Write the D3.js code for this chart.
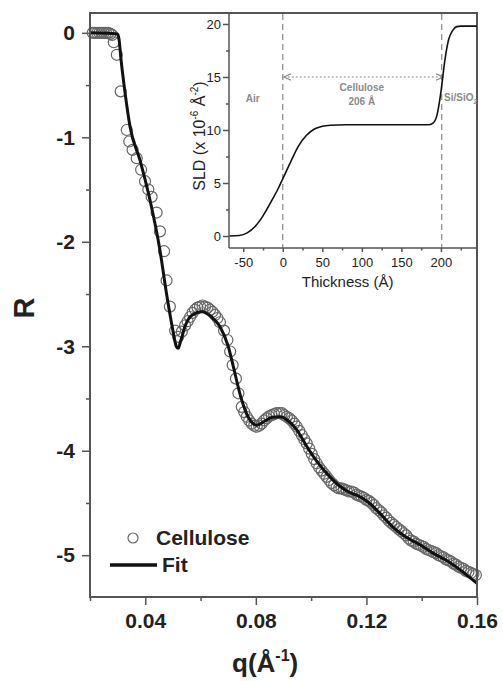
<!DOCTYPE html>
<html>
<head>
<meta charset="utf-8">
<script src="https://d3js.org/d3.v7.min.js"></script>
<style>
  body { margin: 0; background: #fff; }
  svg { display: block; font-family: "Liberation Sans", Arial, sans-serif; }
</style>
</head>
<body>
<div id="chart"></div>
<script>
// measured reflectivity (log R) vs q
var qData = [0.0210, 0.0218, 0.0226, 0.0234, 0.0242, 0.0250, 0.0258, 0.0266, 0.0274, 0.0280,
  0.0286, 0.0297, 0.0311, 0.0333, 0.0342, 0.0354, 0.0369, 0.0385, 0.0399, 0.0411,
  0.0423, 0.0441, 0.0453, 0.0468, 0.0477, 0.0489, 0.0508, 0.0519, 0.0532, 0.0544,
  0.0553, 0.0562, 0.0571, 0.0580, 0.0589, 0.0598, 0.0607, 0.0616, 0.0625, 0.0634,
  0.0643, 0.0652, 0.0661, 0.0670, 0.0685, 0.0697, 0.0707, 0.0716, 0.0728, 0.0737,
  0.0749, 0.0758, 0.0767, 0.0776, 0.0785, 0.0794, 0.0803, 0.0812, 0.0821, 0.0830,
  0.0839, 0.0848, 0.0857, 0.0866, 0.0875, 0.0885, 0.0894, 0.0903, 0.0912, 0.0921,
  0.0930, 0.0939, 0.0948, 0.0957, 0.0966, 0.0975, 0.0984, 0.0993, 0.1002, 0.1011,
  0.1020, 0.1029, 0.1038, 0.1047, 0.1056, 0.1065, 0.1074, 0.1083, 0.1092, 0.1101,
  0.1110, 0.1119, 0.1128, 0.1137, 0.1146, 0.1155, 0.1164, 0.1173, 0.1182, 0.1191,
  0.1200, 0.1209, 0.1218, 0.1227, 0.1236, 0.1245, 0.1254, 0.1263, 0.1272, 0.1281,
  0.1290, 0.1299, 0.1308, 0.1317, 0.1326, 0.1335, 0.1344, 0.1353, 0.1362, 0.1371,
  0.1380, 0.1389, 0.1398, 0.1407, 0.1416, 0.1425, 0.1434, 0.1443, 0.1452, 0.1461,
  0.1470, 0.1479, 0.1488, 0.1497, 0.1506, 0.1515, 0.1524, 0.1533, 0.1542, 0.1551,
  0.1560, 0.1569, 0.1578, 0.1587, 0.1596];
var rData = [0.00, 0.00, 0.00, 0.00, 0.00, 0.00, 0.00, 0.00, -0.01, -0.02,
  -0.09, -0.21, -0.56, -0.93, -1.04, -1.12, -1.20, -1.31, -1.42, -1.50,
  -1.57, -1.72, -1.90, -2.09, -2.37, -2.62, -2.85, -2.91, -2.86, -2.80,
  -2.76, -2.72, -2.68, -2.65, -2.63, -2.62, -2.61, -2.62, -2.63, -2.65,
  -2.67, -2.70, -2.73, -2.77, -2.85, -2.94, -3.05, -3.18, -3.31, -3.45,
  -3.58, -3.63, -3.675, -3.71, -3.74, -3.76, -3.77, -3.76, -3.74, -3.71,
  -3.69, -3.67, -3.66, -3.65, -3.64, -3.64, -3.64, -3.66, -3.675, -3.69,
  -3.71, -3.74, -3.77, -3.81, -3.85, -3.89, -3.93, -3.98, -4.03, -4.08,
  -4.12, -4.16, -4.19, -4.22, -4.25, -4.28, -4.31, -4.33, -4.35, -4.36,
  -4.36, -4.37, -4.38, -4.39, -4.39, -4.40, -4.42, -4.43, -4.44, -4.45,
  -4.47, -4.48, -4.50, -4.52, -4.55, -4.57, -4.59, -4.62, -4.64, -4.67,
  -4.69, -4.71, -4.73, -4.75, -4.77, -4.79, -4.81, -4.84, -4.86, -4.87,
  -4.89, -4.90, -4.91, -4.92, -4.94, -4.95, -4.96, -4.97, -4.98, -5.00,
  -5.01, -5.02, -5.04, -5.05, -5.06, -5.08, -5.09, -5.11, -5.12, -5.13,
  -5.15, -5.16, -5.17, -5.18, -5.19];

// fitted curve
var qFit = [0.0200, 0.0300, 0.0305, 0.0312, 0.0327, 0.0345, 0.0381, 0.0417, 0.0453, 0.0477,
  0.0500, 0.0512, 0.0519, 0.0528, 0.0545, 0.0570, 0.0604, 0.0640, 0.0670, 0.0700,
  0.0719, 0.0745, 0.0767, 0.0790, 0.0803, 0.0830, 0.0860, 0.0888, 0.0920, 0.0948,
  0.0980, 0.1020, 0.1068, 0.1104, 0.1140, 0.1177, 0.1210, 0.1249, 0.1300, 0.1346,
  0.1400, 0.1441, 0.1490, 0.1539, 0.1600];
var rFit = [0.00, -0.01, -0.06, -0.25, -0.577, -0.90, -1.22, -1.60, -2.08, -2.50,
  -2.85, -3.00, -3.02, -2.95, -2.80, -2.70, -2.67, -2.72, -2.81, -3.00,
  -3.20, -3.48, -3.65, -3.74, -3.755, -3.72, -3.68, -3.675, -3.72, -3.80,
  -3.94, -4.10, -4.25, -4.34, -4.40, -4.44, -4.50, -4.60, -4.74, -4.83,
  -4.91, -4.98, -5.05, -5.14, -5.27];

// SLD profile (inset)
var zSld = [-68, -55, -45, -35, -25, -15, -5, 0, 10, 20, 30, 40, 50, 60, 80, 100, 150, 185,
  190, 195, 200, 205, 210, 215, 220, 225, 246];
var sldVal = [0.0, 0.05, 0.3, 0.9, 1.9, 3.2, 4.6, 5.4, 7.0, 8.5, 9.5, 10.1, 10.35, 10.45, 10.5, 10.5, 10.5, 10.5,
  10.65, 11.4, 13.6, 16.6, 18.6, 19.4, 19.75, 19.8, 19.8];

var xTicks = [0.04, 0.08, 0.12, 0.16];
var xMinor = [0.02, 0.06, 0.10, 0.14];
var yTicks = [0, -1, -2, -3, -4, -5];
var yMinor = [-0.5, -1.5, -2.5, -3.5, -4.5];
var insetXTicks = [-50, 0, 50, 100, 150, 200];
var insetXMinor = [-25, 25, 75, 125, 175, 225];
var insetYTicks = [0, 5, 10, 15, 20];
var insetYMinor = [2.5, 7.5, 12.5, 17.5];
var boundaries = [0, 201];

var W = 503, H = 681;
var margin = {top: 13, right: 26, bottom: 84, left: 90},
  width = W - margin.left - margin.right,
  height = H - margin.top - margin.bottom;

var svg = d3.select("#chart")
  .append("svg")
    .attr("width", W)
    .attr("height", H);

var x = d3.scaleLinear().domain([0.02, 0.16]).range([margin.left, margin.left + width]);
var y = d3.scaleLinear().domain([0.19, -5.40]).range([margin.top, margin.top + height]);

var axisColor = "#555", textColor = "#222";
// plain hyphen instead of d3's unicode minus
var hyphenInt = function(d) { return String(d); };

function styleAxis(g) {
  g.select(".domain").remove();
  g.selectAll(".tick line").attr("stroke", axisColor).attr("stroke-width", 1.5);
  g.selectAll(".tick text").attr("fill", textColor);
}

// main axes
svg.append("g")
  .attr("transform", "translate(0," + (margin.top + height) + ")")
  .call(d3.axisBottom(x).tickValues(xTicks).tickSize(8).tickPadding(8).tickFormat(d3.format(".2f")))
  .call(styleAxis)
  .selectAll("text").attr("font-size", 21).attr("font-weight", "bold").attr("font-family", null);
svg.append("g")
  .attr("transform", "translate(0," + (margin.top + height) + ")")
  .call(d3.axisBottom(x).tickValues(xMinor).tickSize(4).tickFormat(""))
  .call(styleAxis);

svg.append("g")
  .attr("transform", "translate(" + margin.left + ",0)")
  .call(d3.axisLeft(y).tickValues(yTicks).tickSize(8).tickPadding(7).tickFormat(hyphenInt))
  .call(styleAxis)
  .selectAll("text").attr("font-size", 21).attr("font-weight", "bold").attr("font-family", null);
svg.append("g")
  .attr("transform", "translate(" + margin.left + ",0)")
  .call(d3.axisLeft(y).tickValues(yMinor).tickSize(4).tickFormat(""))
  .call(styleAxis);

// main data
var line = d3.line()
  .x(function(d, i) { return x(qFit[i]); })
  .y(function(d, i) { return y(rFit[i]); })
  .curve(d3.curveMonotoneX);

svg.append("g")
  .selectAll("circle")
  .data(qData)
  .join("circle")
    .attr("cx", function(d) { return x(d); })
    .attr("cy", function(d, i) { return y(rData[i]); })
    .attr("r", 5.5)
    .attr("fill", "none")
    .attr("stroke", "#666")
    .attr("stroke-width", 1.2);

svg.append("path")
  .datum(qFit)
  .attr("d", line)
  .attr("fill", "none")
  .attr("stroke", "#111")
  .attr("stroke-width", 3);

// frame
svg.append("rect")
  .attr("x", margin.left).attr("y", margin.top)
  .attr("width", width).attr("height", height)
  .attr("fill", "none").attr("stroke", axisColor).attr("stroke-width", 2);

// axis titles
svg.append("text")
  .attr("x", 232).attr("y", 672)
  .attr("font-size", 26).attr("font-weight", "bold").attr("fill", textColor)
  .call(function(t) {
    t.append("tspan").text("q(Å");
    t.append("tspan").attr("font-size", 16).attr("dy", -11).text("-1");
    t.append("tspan").attr("dy", 11).text(")");
  });

svg.append("text")
  .attr("transform", "translate(34,308) rotate(-90)")
  .attr("text-anchor", "middle")
  .attr("font-size", 29).attr("font-weight", "bold").attr("fill", textColor)
  .text("R");

// legend
svg.append("circle")
  .attr("cx", 133).attr("cy", 538).attr("r", 5)
  .attr("fill", "none").attr("stroke", "#666").attr("stroke-width", 1.2);
svg.append("text")
  .attr("x", 156).attr("y", 545)
  .attr("font-size", 21).attr("font-weight", "bold").attr("fill", textColor)
  .text("Cellulose");
svg.append("line")
  .attr("x1", 110).attr("x2", 157).attr("y1", 565).attr("y2", 565)
  .attr("stroke", "#111").attr("stroke-width", 3.5);
svg.append("text")
  .attr("x", 162).attr("y", 572)
  .attr("font-size", 21).attr("font-weight", "bold").attr("fill", textColor)
  .text("Fit");

// ---------- inset ----------
var inset = {left: 229, top: 14, width: 248, height: 234};
var xi = d3.scaleLinear().domain([-68, 245.6]).range([inset.left, inset.left + inset.width]);
var yi = d3.scaleLinear().domain([20.94, -1.13]).range([inset.top, inset.top + inset.height]);

svg.append("defs").call(function(defs) {
  defs.append("clipPath").attr("id", "insetClip")
    .append("rect")
      .attr("x", inset.left).attr("y", inset.top)
      .attr("width", inset.width).attr("height", inset.height);
  defs.append("marker")
    .attr("id", "arrow")
    .attr("viewBox", "0 0 8 8")
    .attr("refX", 7).attr("refY", 4)
    .attr("markerWidth", 7).attr("markerHeight", 7)
    .attr("orient", "auto-start-reverse")
    .append("path")
      .attr("d", "M0,1 L7,4 L0,7")
      .attr("fill", "none").attr("stroke", "#888").attr("stroke-width", 1.2);
});

var ig = svg.append("g").attr("clip-path", "url(#insetClip)");

ig.selectAll("line.bound")
  .data(boundaries)
  .join("line")
    .attr("class", "bound")
    .attr("x1", function(d) { return xi(d); })
    .attr("x2", function(d) { return xi(d); })
    .attr("y1", inset.top).attr("y2", inset.top + inset.height)
    .attr("stroke", "#888").attr("stroke-width", 1.2)
    .attr("stroke-dasharray", "6,4");

ig.append("line")
  .attr("x1", xi(0) + 1).attr("x2", xi(203))
  .attr("y1", yi(15)).attr("y2", yi(15))
  .attr("stroke", "#888").attr("stroke-width", 1.2)
  .attr("stroke-dasharray", "2,2")
  .attr("marker-start", "url(#arrow)")
  .attr("marker-end", "url(#arrow)");

var labelStyle = function(t) {
  t.attr("font-size", 10).attr("font-weight", "bold").attr("fill", "#8a8a8a");
};
ig.append("text").attr("x", xi(-38)).attr("y", yi(12.6)).attr("text-anchor", "middle")
  .call(labelStyle).text("Air");
ig.append("text").attr("x", xi(100)).attr("y", yi(13.7)).attr("text-anchor", "middle")
  .call(labelStyle).text("Cellulose");
ig.append("text").attr("x", xi(100)).attr("y", yi(12.4)).attr("text-anchor", "middle")
  .call(labelStyle).text("206 Å");
ig.append("text").attr("x", xi(204)).attr("y", yi(12.7))
  .call(labelStyle)
  .call(function(t) {
    t.append("tspan").text("Si/SiO");
    t.append("tspan").attr("font-size", 7).attr("dy", 3).text("2");
  });

var sldLine = d3.line()
  .x(function(d, i) { return xi(zSld[i]); })
  .y(function(d, i) { return yi(sldVal[i]); })
  .curve(d3.curveMonotoneX);

ig.append("path")
  .datum(zSld)
  .attr("d", sldLine)
  .attr("fill", "none")
  .attr("stroke", "#111")
  .attr("stroke-width", 1.6);

// inset axes
svg.append("g")
  .attr("transform", "translate(0," + (inset.top + inset.height) + ")")
  .call(d3.axisBottom(xi).tickValues(insetXTicks).tickSize(4).tickPadding(6).tickFormat(hyphenInt))
  .call(styleAxis)
  .selectAll("text").attr("font-size", 13).attr("font-family", null);
svg.append("g")
  .attr("transform", "translate(0," + (inset.top + inset.height) + ")")
  .call(d3.axisBottom(xi).tickValues(insetXMinor).tickSize(2.5).tickFormat(""))
  .call(styleAxis);
svg.append("g")
  .attr("transform", "translate(" + inset.left + ",0)")
  .call(d3.axisLeft(yi).tickValues(insetYTicks).tickSize(6).tickPadding(2).tickFormat(hyphenInt))
  .call(styleAxis)
  .selectAll("text").attr("font-size", 13).attr("font-family", null);
svg.append("g")
  .attr("transform", "translate(" + inset.left + ",0)")
  .call(d3.axisLeft(yi).tickValues(insetYMinor).tickSize(3).tickFormat(""))
  .call(styleAxis);

svg.append("line")
  .attr("x1", inset.left).attr("x2", inset.left)
  .attr("y1", inset.top).attr("y2", inset.top + inset.height)
  .attr("stroke", axisColor).attr("stroke-width", 1.5);
svg.append("line")
  .attr("x1", inset.left).attr("x2", inset.left + inset.width)
  .attr("y1", inset.top + inset.height).attr("y2", inset.top + inset.height)
  .attr("stroke", axisColor).attr("stroke-width", 1.5);

svg.append("text")
  .attr("x", xi(82)).attr("y", 287)
  .attr("text-anchor", "middle")
  .attr("font-size", 15).attr("fill", textColor)
  .text("Thickness (Å)");

svg.append("text")
  .attr("transform", "translate(205," + (inset.top + 122) + ") rotate(-90)")
  .attr("text-anchor", "middle")
  .attr("font-size", 16).attr("fill", textColor)
  .call(function(t) {
    t.append("tspan").text("SLD (x 10");
    t.append("tspan").attr("font-size", 10).attr("dy", -7).text("-6");
    t.append("tspan").attr("dy", 7).text(" Å");
    t.append("tspan").attr("font-size", 10).attr("dy", -7).text("-2");
    t.append("tspan").attr("dy", 7).text(")");
  });
</script>
</body>
</html>
